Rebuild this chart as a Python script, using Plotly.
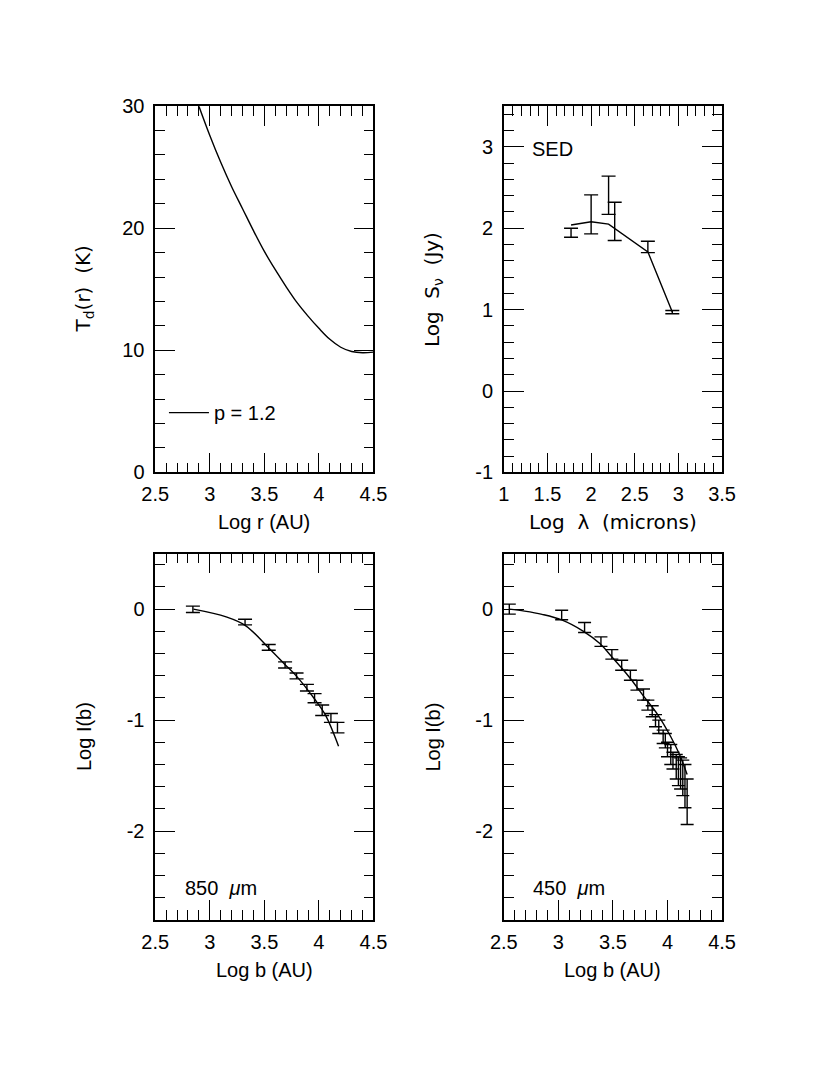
import plotly.graph_objects as go
from plotly.subplots import make_subplots

FONT = "Liberation Sans, Arial, Helvetica, sans-serif"
WIDE = "DejaVu Sans, Verdana, sans-serif"

# ---- top left: dust temperature profile (p = 1.2)
log_r = [2.90, 3.0, 3.1, 3.2, 3.3, 3.4, 3.5, 3.6, 3.7, 3.8, 3.9, 4.0, 4.1, 4.2, 4.3, 4.4, 4.5]
t_dust = [30, 27.6, 25.4, 23.4, 21.6, 19.8, 18.1, 16.6, 15.2, 13.9, 12.8, 11.8, 10.9, 10.25, 9.9, 9.8, 9.85]

# ---- top right: SED (data bars + model)
sed_lam = [1.77, 2.00, 2.20, 2.27, 2.65, 2.93]
sed_hi = [2.00, 2.41, 2.64, 2.32, 1.84, 0.99]
sed_lo = [1.89, 1.93, 2.17, 1.85, 1.70, 0.95]
sed_mod_lam = [1.77, 2.00, 2.20, 2.65, 2.93]
sed_mod = [2.04, 2.08, 2.05, 1.71, 0.97]

# ---- bottom left: 850 micron intensity profile
b850 = [2.845, 3.323, 3.54, 3.69, 3.795, 3.89, 3.96, 4.03, 4.11, 4.17]
hi850 = [0.027, -0.091, -0.318, -0.475, -0.575, -0.678, -0.761, -0.864, -0.94, -1.02]
lo850 = [-0.03, -0.142, -0.37, -0.53, -0.628, -0.737, -0.843, -0.958, -1.02, -1.115]
mod850_b = [2.85, 3.15, 3.33, 3.54, 3.69, 3.80, 3.96, 4.06, 4.18]
mod850 = [0.0, -0.07, -0.15, -0.35, -0.50, -0.61, -0.81, -0.955, -1.235]

# ---- bottom right: 450 micron intensity profile
b450 = [2.55, 3.03, 3.24, 3.39, 3.49, 3.58, 3.66, 3.72, 3.78, 3.82, 3.86, 3.89,
        3.92, 3.96, 3.98, 4.00, 4.03, 4.05, 4.08, 4.10, 4.12, 4.14, 4.16, 4.18]
hi450 = [0.045, -0.01, -0.12, -0.25, -0.365, -0.46, -0.55, -0.64, -0.72, -0.82, -0.87, -0.95,
         -1.00, -1.09, -1.12, -1.20, -1.22, -1.29, -1.31, -1.33, -1.34, -1.36, -1.40, -1.53]
lo450 = [-0.045, -0.095, -0.21, -0.335, -0.45, -0.55, -0.64, -0.73, -0.82, -0.91, -0.97, -1.06,
         -1.12, -1.21, -1.25, -1.33, -1.40, -1.44, -1.53, -1.59, -1.62, -1.68, -1.79, -1.94]
mod450_b = [2.55, 2.69, 2.85, 3.03, 3.23, 3.38, 3.49, 3.58, 3.66, 3.77, 3.91, 4.03, 4.11, 4.18]
mod450 = [0.0, -0.018, -0.047, -0.097, -0.20, -0.31, -0.43, -0.53, -0.625, -0.77, -0.95, -1.15, -1.31, -1.49]

# tick labels
r_ticks = [2.5, 3, 3.5, 4, 4.5]
r_labels = ["2.5", "3", "3.5", "4", "4.5"]
t_ticks = [0, 10, 20, 30]
t_labels = ["0", "10", "20", "30"]
lam_ticks = [1, 1.5, 2, 2.5, 3, 3.5]
lam_labels = ["1", "1.5", "2", "2.5", "3", "3.5"]
s_ticks = [-1, 0, 1, 2, 3]
s_labels = ["-1", "0", "1", "2", "3"]
i_ticks = [-2, -1, 0]
i_labels = ["-2", "-1", "0"]

# page is 830x1075, body keeps its 8px margin -> figure is 16px smaller
OFF = 8
W, H = 830 - 2 * OFF, 1075 - 2 * OFF
cols = [(146, 372), (507, 733)]   # page pixels
rows = [(97, 471), (554, 928)]

fig = make_subplots(rows=2, cols=2)

line = dict(color="black", width=1.4)


def bars(x, hi, lo, cap):
    return go.Scatter(
        x=x, y=lo, mode="markers", marker=dict(size=1, color="rgba(0,0,0,0)"),
        error_y=dict(type="data", symmetric=False,
                     array=[h - l for h, l in zip(hi, lo)],
                     arrayminus=[0] * len(lo),
                     color="black", thickness=1.4, width=cap),
        showlegend=False, hoverinfo="skip")


fig.add_trace(go.Scatter(x=log_r, y=t_dust, mode="lines", line=dict(shape="spline", **line),
                         name="p = 1.2", showlegend=True), row=1, col=1)

fig.add_trace(bars(sed_lam, sed_hi, sed_lo, 7), row=1, col=2)
fig.add_trace(go.Scatter(x=sed_mod_lam, y=sed_mod, mode="lines", line=line, showlegend=False),
              row=1, col=2)

fig.add_trace(bars(b850, hi850, lo850, 7), row=2, col=1)
fig.add_trace(go.Scatter(x=mod850_b, y=mod850, mode="lines", line=dict(shape="spline", **line),
                         showlegend=False), row=2, col=1)

fig.add_trace(bars(b450, hi450, lo450, 6.5), row=2, col=2)
fig.add_trace(go.Scatter(x=mod450_b, y=mod450, mode="lines", line=dict(shape="spline", **line),
                         showlegend=False), row=2, col=2)

axis_common = dict(
    showline=True, linecolor="black", linewidth=1.5, mirror="allticks",
    ticks="inside", ticklen=20, tickwidth=1.3, tickcolor="black",
    showgrid=False, zeroline=False, tickmode="array",
    tickfont=dict(size=20, color="black", family=FONT),
)


def minor(step):
    return dict(ticks="inside", ticklen=10, tickwidth=1.3, tickcolor="black",
                dtick=step, tick0=0, showgrid=False)


panel_axes = {
    (1, 1): (dict(range=[2.5, 4.5], tickvals=r_ticks, ticktext=r_labels, minor=minor(0.1)),
             dict(range=[0, 30], tickvals=t_ticks, ticktext=t_labels, minor=minor(2))),
    (1, 2): (dict(range=[1, 3.5], tickvals=lam_ticks, ticktext=lam_labels, minor=minor(0.1)),
             dict(range=[-1, 3.5], tickvals=s_ticks, ticktext=s_labels, minor=minor(0.2))),
    (2, 1): (dict(range=[2.5, 4.5], tickvals=r_ticks, ticktext=r_labels, minor=minor(0.1)),
             dict(range=[-2.8, 0.5], tickvals=i_ticks, ticktext=i_labels, minor=minor(0.2))),
    (2, 2): (dict(range=[2.5, 4.5], tickvals=r_ticks, ticktext=r_labels, minor=minor(0.1)),
             dict(range=[-2.8, 0.5], tickvals=i_ticks, ticktext=i_labels, minor=minor(0.2))),
}

for (r, c), (xa, ya) in panel_axes.items():
    x0, x1 = cols[c - 1]
    y0, y1 = rows[r - 1]
    fig.update_xaxes(domain=[(x0 - OFF) / W, (x1 - OFF) / W], ticklabelstandoff=3,
                     **axis_common, **xa, row=r, col=c)
    fig.update_yaxes(domain=[1 - (y1 - OFF) / H, 1 - (y0 - OFF) / H], ticklabelstandoff=5,
                     **axis_common, **ya, row=r, col=c)

# axis titles
nb = "\u00a0"
xtitles = {1: ("Log r (AU)", FONT), 2: (f"Log{nb}{nb}\u03bb{nb}{nb}(microns)", WIDE),
           3: ("Log b (AU)", FONT), 4: ("Log b (AU)", FONT)}
ytitles = {1: (f"T<sub>d</sub>(r){nb}{nb}(K)", WIDE),
           2: (f"Log{nb}{nb}S<sub>\u03bd</sub>{nb}{nb}(Jy)", WIDE),
           3: ("Log I(b)", FONT), 4: ("Log I(b)", FONT)}
ann = []
for i in range(1, 5):
    sfx = "" if i == 1 else str(i)
    xt, xf = xtitles[i]
    yt, yf = ytitles[i]
    ann.append(dict(text=xt, xref=f"x{sfx} domain", yref=f"y{sfx} domain",
                    x=0.5, y=0, yshift=-50, showarrow=False, yanchor="middle",
                    font=dict(size=20, family=xf, color="black")))
    ann.append(dict(text=yt, xref=f"x{sfx} domain", yref=f"y{sfx} domain",
                    x=0, y=0.5, xshift=-71, textangle=-90, showarrow=False, xanchor="center",
                    font=dict(size=20, family=yf, color="black")))

ann.append(dict(text="SED", xref="x2", yref="y2", x=1.3, y=2.97, xanchor="left",
                showarrow=False, font=dict(size=20, family=FONT, color="black")))
ann.append(dict(text=f"850{nb}{nb}<i>\u03bc</i>m", xref="x3", yref="y3", x=2.75, y=-2.51,
                xanchor="left", showarrow=False, font=dict(size=20, family=FONT, color="black")))
ann.append(dict(text=f"450{nb}{nb}<i>\u03bc</i>m", xref="x4", yref="y4", x=2.75, y=-2.51,
                xanchor="left", showarrow=False, font=dict(size=20, family=FONT, color="black")))

fig.update_layout(
    width=W, height=H, margin=dict(l=0, r=0, t=0, b=0),
    paper_bgcolor="white", plot_bgcolor="white",
    font=dict(family=FONT, color="black"),
    annotations=ann,
    legend=dict(x=(155 - OFF) / W, y=1 - (410 - OFF) / H, xanchor="left", yanchor="middle",
                bgcolor="rgba(0,0,0,0)", borderwidth=0, itemwidth=40,
                font=dict(size=20, family=FONT, color="black")),
)

fig.write_html("out.html")
